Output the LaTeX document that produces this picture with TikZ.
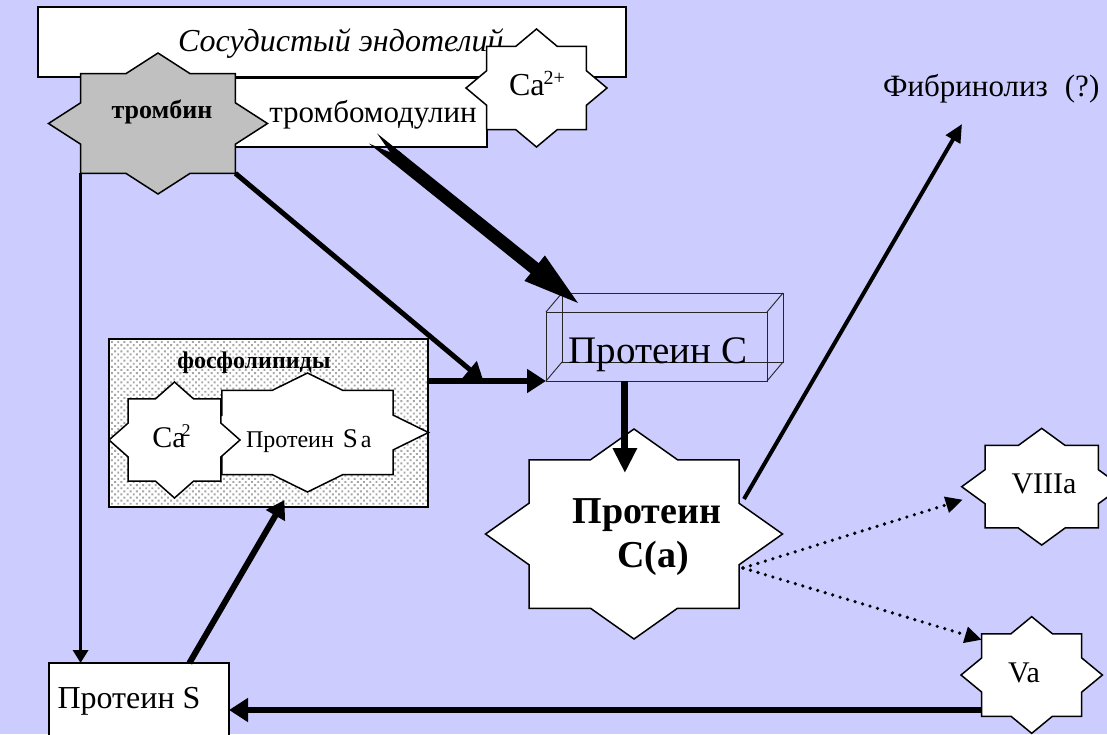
\documentclass[tikz,border=0pt]{standalone}
\usepackage{fontspec}
\setmainfont{Liberation Serif}
\usetikzlibrary{arrows.meta,calc,patterns.meta}

\definecolor{bgc}{RGB}{204,204,255}
\definecolor{thrgray}{RGB}{192,192,192}

\newcommand\setfs[1]{\fontsize{#1}{#1}\selectfont}

% Eight-pointed star: points N/E/S/W on the box edges, diagonal points at 0.707
\makeatletter
\def\octo@pt#1#2{%
  \southwest \pgf@xa=\pgf@x \pgf@ya=\pgf@y
  \northeast \pgf@xb=\pgf@x \pgf@yb=\pgf@y
  \pgf@xc=\pgf@xb \advance\pgf@xc by -\pgf@xa \pgf@xc=.5\pgf@xc
  \pgf@yc=\pgf@yb \advance\pgf@yc by -\pgf@ya \pgf@yc=.5\pgf@yc
  \pgf@x=\pgf@xa \advance\pgf@x by \pgf@xc \advance\pgf@x by #1\pgf@xc
  \pgf@y=\pgf@ya \advance\pgf@y by \pgf@yc \advance\pgf@y by #2\pgf@yc
}
\def\octo@to#1#2{\octo@pt{#1}{#2}\pgfpathlineto{\pgfqpoint{\pgf@x}{\pgf@y}}}
\pgfdeclareshape{octostar}{
  \inheritsavedanchors[from=rectangle]
  \inheritanchorborder[from=rectangle]
  \inheritanchor[from=rectangle]{center}
  \inheritanchor[from=rectangle]{north}
  \inheritanchor[from=rectangle]{south}
  \inheritanchor[from=rectangle]{east}
  \inheritanchor[from=rectangle]{west}
  \anchor{corner north east}{\octo@pt{0.7071}{0.7071}}
  \anchor{corner north west}{\octo@pt{-0.7071}{0.7071}}
  \anchor{corner south east}{\octo@pt{0.7071}{-0.7071}}
  \anchor{corner south west}{\octo@pt{-0.7071}{-0.7071}}
  \backgroundpath{%
    \octo@pt{1}{0}\pgfpathmoveto{\pgfqpoint{\pgf@x}{\pgf@y}}%
    \octo@to{0.7071}{0.2929}%
    \octo@to{0.7071}{0.7071}%
    \octo@to{0.2929}{0.7071}%
    \octo@to{0}{1}%
    \octo@to{-0.2929}{0.7071}%
    \octo@to{-0.7071}{0.7071}%
    \octo@to{-0.7071}{0.2929}%
    \octo@to{-1}{0}%
    \octo@to{-0.7071}{-0.2929}%
    \octo@to{-0.7071}{-0.7071}%
    \octo@to{-0.2929}{-0.7071}%
    \octo@to{0}{-1}%
    \octo@to{0.2929}{-0.7071}%
    \octo@to{0.7071}{-0.7071}%
    \octo@to{0.7071}{-0.2929}%
    \pgfpathclose
  }
}
\makeatother

\tikzset{
  octo/.style={shape=octostar, draw=black, line width=1.5pt, fill=white,
    inner sep=0pt, outer sep=0pt},
  box/.style={draw=black, line width=1.5pt, fill=white, inner sep=0pt, outer sep=0pt},
  lbl/.style={inner sep=0pt, outer sep=0pt, anchor=base},
  wire/.style={draw=black!85, line width=0.9pt},
  thickarrow/.style={line width=6pt, -{Triangle[length=19pt,width=23pt]}},
  midarrow/.style={line width=5pt, -{Triangle[length=18pt,width=21pt]}},
  thinarrow/.style={line width=3.2pt, -{Triangle[length=13pt,width=15pt]}},
  dotarrow/.style={line width=3.6pt, dash pattern=on 0pt off 7.8pt, line cap=round,
    -{Triangle[length=17pt,width=16pt]}},
  bigarrow/.style={line width=13pt,
    {Triangle Cap[reversed,length=22pt]}-{Triangle[length=62pt,width=28pt]}},
}

\begin{document}
\begin{tikzpicture}[x=1pt,y=-1pt]
\path[use as bounding box] (0,0) rectangle (1107,734);
\clip (0,0) rectangle (1107,734);
\fill[bgc] (0,0) rectangle (1107,734);

% vascular endothelium and thrombomodulin
\node[box, minimum width=588pt, minimum height=70pt] (endo) at (332,42) {};
\node[lbl, anchor=base west] (endot) at (178,51) {\setfs{32}\itshape Сосудистый эндотелий};
\node[box, minimum width=287pt, minimum height=69pt] (tm) at (343.5,112.5) {};
\node[lbl] (tmt) at (373,122) {\setfs{31}тромбомодулин};

% thrombin
\node[octo, fill=thrgray, minimum width=219pt, minimum height=141pt] (thr) at (158,123.5) {};
\node[lbl] (thrt) at (162,118) {\setfs{26}\bfseries тромбин};

% calcium on the membrane
\node[octo, minimum width=141pt, minimum height=118pt] (ca1) at (536.5,88) {};
\node[lbl] (ca1t) at (537,95) {\setfs{32}Ca\kern-1pt\raisebox{11pt}{\setfs{20}2+}};

% fibrinolysis
\node[lbl, anchor=base west] (fib) at (883,96) {\setfs{31}Фибринолиз\hspace{17pt}(?)};

% phospholipid complex
\node[box, line width=1.2pt, minimum width=319pt, minimum height=168pt] (pl) at (268.5,423) {};
\fill[pattern={Dots[distance=4.4pt,radius=1.35pt,angle=45]}, pattern color=gray!70]
  (pl.south west) rectangle (pl.north east);
\draw[line width=1.2pt] (pl.south west) rectangle (pl.north east);
\node[lbl] (plt) at (254,368) {\setfs{24}\bfseries фосфолипиды};
\node[octo, minimum width=242pt, minimum height=119pt] (pls) at (307.5,432.5) {};
\node[lbl, anchor=base west] (plst) at (246,447)
  {\setfs{24}Протеин\hspace{9pt}{\setfs{27}S}\hspace{3pt}a};
\node[octo, minimum width=131pt, minimum height=116pt] (ca2) at (174.5,440) {};
\node[lbl] (ca2t) at (171.5,447) {\setfs{30}Ca\kern-4pt\raisebox{11pt}{\setfs{18}2}};

% protein C as a wire-frame block
\node[wire, inner sep=0pt, outer sep=0pt, minimum width=221pt, minimum height=69pt] (pc) at (656.5,346.5) {};
\draw[wire] ($(pc.north west)+(16,-19)$) rectangle ($(pc.south east)+(16,-19)$);
\draw[wire] (pc.north west) -- ($(pc.north west)+(16,-19)$)
            (pc.north east) -- ($(pc.north east)+(16,-19)$)
            (pc.south west) -- ($(pc.south west)+(16,-19)$)
            (pc.south east) -- ($(pc.south east)+(16,-19)$);
\node[lbl] (pct) at (658,363) {\setfs{39}Протеин С};

% activated protein C
\node[octo, minimum width=297pt, minimum height=210pt] (pca) at (634,534) {};
\node[lbl] (pcat1) at (647,523) {\setfs{38}\bfseries Протеин};
\node[lbl] (pcat2) at (653,567) {\setfs{38}\bfseries C(a)};

% factors VIIIa and Va
\node[octo, minimum width=160pt, minimum height=116.7pt] (v8) at (1041.7,486.7) {};
\node[lbl] (v8t) at (1044,493) {\setfs{30}VIIIa};
\node[octo, minimum width=141.4pt, minimum height=116.7pt] (v5) at (1031.7,675) {};
\node[lbl] (v5t) at (1024,682) {\setfs{30}Va};

% protein S
\node[box, minimum width=180pt, minimum height=94pt] (ps) at (139,710) {};
\node[lbl] (pst) at (129,708) {\setfs{32}Протеин S};

% connection points
\coordinate (plout) at (pl.east |- pc.south west);
\coordinate (merge) at ($(plout)!0.47!(pc.south west)$);
\coordinate (pcout) at ($(pc.south west)!0.357!(pc.south east)$);
\coordinate (pcain) at ($(pcout |- pca.north)+(0,44)$);
\coordinate (plsin) at ($(pl.south west)!0.55!(pl.south east)+(0,-7)$);
\coordinate (tmout) at ($(tm.south)+(29.5,-8.5)$);
\coordinate (pcin) at ($(pc.north west)+(37,-5)$);
\coordinate (fibin) at ($(fib.base west)+(79,28)$);

% connectors
\draw[bigarrow] (tmout) -- (pcin);
\draw[midarrow] (thr.corner south east) -- (merge);
\draw[thickarrow] (plout) -- (pc.south west);
\draw[line width=7pt, -{Triangle[length=25pt,width=23pt]}] (pcout) -- (pcain);
\draw[thinarrow] (thr.corner south west) -- (thr.corner south west |- ps.north);
\draw[thickarrow, -{Triangle[length=18pt,width=21pt]}]
  ($(ps.north west)!0.78!(ps.north east)$) -- (plsin);
\draw[thickarrow] (v5.corner south west |- ps.east) -- (ps.east);
\draw[line width=4pt, -{Triangle[length=18pt,width=16pt]}]
  ($(pca.center)+(110,-35)$) -- (fibin);
\draw[dotarrow] ($(pca.center)+(109,34)$) -- ($(v8.west)+(1,13)$);
\draw[dotarrow] ($(pca.center)+(109,34)$) -- ($(v5.corner north west)+(0,6)$);
\end{tikzpicture}
\end{document}
